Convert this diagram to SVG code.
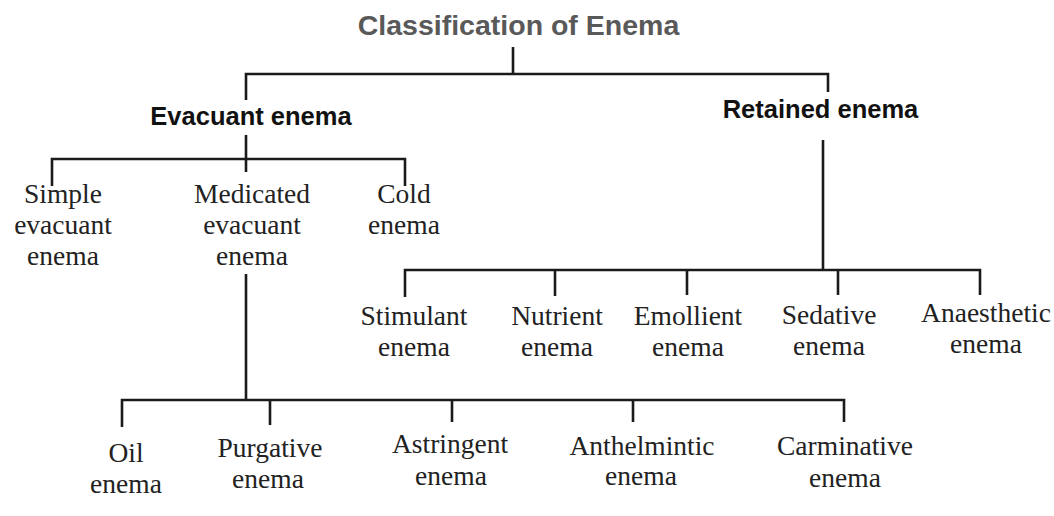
<svg xmlns="http://www.w3.org/2000/svg" width="1054" height="516" viewBox="0 0 1054 516">
<style>
.title{font-family:"Liberation Sans",Arial,sans-serif;font-weight:bold;font-size:28.5px;fill:#595959;text-anchor:middle}
.head{font-family:"Liberation Sans",Arial,sans-serif;font-weight:bold;font-size:25.5px;fill:#111;text-anchor:middle}
.leaf{font-family:"Liberation Serif","Times New Roman",serif;font-size:27.5px;fill:#222;text-anchor:middle}
.conn path{fill:none;stroke:#1a1a1a;stroke-width:2.6;stroke-linejoin:miter;stroke-linecap:butt}
</style>
<rect width="1054" height="516" fill="#ffffff"/>
<g id="connectors" class="conn">
<path d="M513 47 V74"/>
<path d="M246 100 V74 H828 V92"/>
<path d="M246 135 V172"/>
<path d="M52 186 V159 H405 V186"/>
<path d="M823 140 V270"/>
<path d="M405 297 V270 H980 V295"/>
<path d="M555 270 V296"/>
<path d="M687 270 V295"/>
<path d="M838 270 V295"/>
<path d="M246 274 V400"/>
<path d="M122 427 V400 H844 V422"/>
<path d="M270 400 V425"/>
<path d="M452 400 V422"/>
<path d="M633 400 V422"/>
</g>
<g id="root"><text class="title" x="518.5" y="35">Classification of Enema</text></g>
<g id="evacuant"><text class="head" x="251" y="125">Evacuant enema</text></g>
<g id="retained"><text class="head" x="820.5" y="118">Retained enema</text></g>
<g id="simple"><text class="leaf" x="63" y="203">Simple</text><text class="leaf" x="63" y="234">evacuant</text><text class="leaf" x="63" y="265">enema</text></g>
<g id="medicated"><text class="leaf" x="252" y="203">Medicated</text><text class="leaf" x="252" y="234">evacuant</text><text class="leaf" x="252" y="265">enema</text></g>
<g id="cold"><text class="leaf" x="404" y="203">Cold</text><text class="leaf" x="404" y="234">enema</text></g>
<g id="stimulant"><text class="leaf" x="414" y="325">Stimulant</text><text class="leaf" x="414" y="356">enema</text></g>
<g id="nutrient"><text class="leaf" x="557" y="325">Nutrient</text><text class="leaf" x="557" y="356">enema</text></g>
<g id="emollient"><text class="leaf" x="688" y="325">Emollient</text><text class="leaf" x="688" y="356">enema</text></g>
<g id="sedative"><text class="leaf" x="829" y="324">Sedative</text><text class="leaf" x="829" y="355">enema</text></g>
<g id="anaesthetic"><text class="leaf" x="986" y="322">Anaesthetic</text><text class="leaf" x="986" y="353">enema</text></g>
<g id="oil"><text class="leaf" x="126" y="462">Oil</text><text class="leaf" x="126" y="493">enema</text></g>
<g id="purgative"><text class="leaf" x="270" y="457">Purgative</text><text class="leaf" x="268" y="488">enema</text></g>
<g id="astringent"><text class="leaf" x="450" y="453">Astringent</text><text class="leaf" x="451" y="485">enema</text></g>
<g id="anthelmintic"><text class="leaf" x="642" y="455">Anthelmintic</text><text class="leaf" x="641" y="485">enema</text></g>
<g id="carminative"><text class="leaf" x="845" y="455">Carminative</text><text class="leaf" x="845" y="487">enema</text></g>
</svg>
